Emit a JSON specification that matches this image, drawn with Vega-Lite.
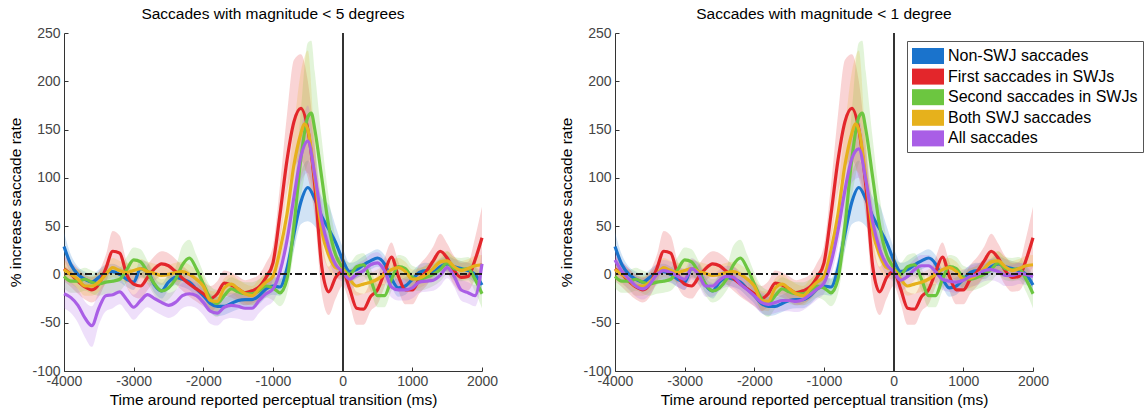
{
"$schema":"https://vega.github.io/schema/vega-lite/v6.json",
"padding":{"left":8,"top":7,"right":0,"bottom":0},
"config":{"font":"Liberation Sans","view":{"stroke":null},
"axis":{"grid":false,"domainColor":"#333","tickColor":"#333","labelColor":"#444","labelFontSize":14,"titleFontSize":15.5,"titleFontWeight":"normal","titleColor":"#000","tickSize":4,"labelPadding":3,"labelOverlap":false,"labelFlush":false},
"title":{"fontSize":15.5,"fontWeight":"normal","color":"#000","offset":3.5}},
"datasets":{"d":[
{"p":"X","s":"Non-SWJ saccades","t":-4000,"v":29,"lo":16,"hi":44},
{"p":"X","s":"Non-SWJ saccades","t":-3900,"v":10,"lo":1,"hi":20},
{"p":"X","s":"Non-SWJ saccades","t":-3800,"v":0,"lo":-8,"hi":8},
{"p":"X","s":"Non-SWJ saccades","t":-3700,"v":-5,"lo":-13,"hi":3},
{"p":"X","s":"Non-SWJ saccades","t":-3600,"v":-8,"lo":-16,"hi":0},
{"p":"X","s":"Non-SWJ saccades","t":-3500,"v":-3,"lo":-11,"hi":5},
{"p":"X","s":"Non-SWJ saccades","t":-3400,"v":2,"lo":-6,"hi":10},
{"p":"X","s":"Non-SWJ saccades","t":-3300,"v":3,"lo":-5,"hi":11},
{"p":"X","s":"Non-SWJ saccades","t":-3200,"v":0,"lo":-8,"hi":8},
{"p":"X","s":"Non-SWJ saccades","t":-3100,"v":-5,"lo":-13,"hi":3},
{"p":"X","s":"Non-SWJ saccades","t":-3000,"v":-8,"lo":-16,"hi":0},
{"p":"X","s":"Non-SWJ saccades","t":-2900,"v":6,"lo":-3,"hi":15},
{"p":"X","s":"Non-SWJ saccades","t":-2800,"v":3,"lo":-6,"hi":12},
{"p":"X","s":"Non-SWJ saccades","t":-2700,"v":-11,"lo":-19,"hi":-3},
{"p":"X","s":"Non-SWJ saccades","t":-2600,"v":-17,"lo":-25,"hi":-9},
{"p":"X","s":"Non-SWJ saccades","t":-2500,"v":-8,"lo":-16,"hi":0},
{"p":"X","s":"Non-SWJ saccades","t":-2400,"v":-3,"lo":-11,"hi":5},
{"p":"X","s":"Non-SWJ saccades","t":-2300,"v":-5,"lo":-13,"hi":3},
{"p":"X","s":"Non-SWJ saccades","t":-2200,"v":-8,"lo":-16,"hi":0},
{"p":"X","s":"Non-SWJ saccades","t":-2100,"v":-15,"lo":-23,"hi":-7},
{"p":"X","s":"Non-SWJ saccades","t":-2000,"v":-22,"lo":-30,"hi":-14},
{"p":"X","s":"Non-SWJ saccades","t":-1900,"v":-30,"lo":-40,"hi":-20},
{"p":"X","s":"Non-SWJ saccades","t":-1800,"v":-33,"lo":-43,"hi":-23},
{"p":"X","s":"Non-SWJ saccades","t":-1700,"v":-33,"lo":-42,"hi":-24},
{"p":"X","s":"Non-SWJ saccades","t":-1600,"v":-30,"lo":-39,"hi":-21},
{"p":"X","s":"Non-SWJ saccades","t":-1500,"v":-27,"lo":-36,"hi":-18},
{"p":"X","s":"Non-SWJ saccades","t":-1400,"v":-26,"lo":-35,"hi":-17},
{"p":"X","s":"Non-SWJ saccades","t":-1300,"v":-26,"lo":-35,"hi":-17},
{"p":"X","s":"Non-SWJ saccades","t":-1200,"v":-22,"lo":-31,"hi":-13},
{"p":"X","s":"Non-SWJ saccades","t":-1100,"v":-15,"lo":-24,"hi":-6},
{"p":"X","s":"Non-SWJ saccades","t":-1000,"v":-12,"lo":-21,"hi":-3},
{"p":"X","s":"Non-SWJ saccades","t":-900,"v":-13,"lo":-22,"hi":-4},
{"p":"X","s":"Non-SWJ saccades","t":-800,"v":6,"lo":-6,"hi":18},
{"p":"X","s":"Non-SWJ saccades","t":-700,"v":42,"lo":25,"hi":62},
{"p":"X","s":"Non-SWJ saccades","t":-600,"v":75,"lo":52,"hi":105},
{"p":"X","s":"Non-SWJ saccades","t":-500,"v":90,"lo":55,"hi":118},
{"p":"X","s":"Non-SWJ saccades","t":-400,"v":78,"lo":50,"hi":100},
{"p":"X","s":"Non-SWJ saccades","t":-300,"v":60,"lo":40,"hi":80},
{"p":"X","s":"Non-SWJ saccades","t":-200,"v":47,"lo":30,"hi":72},
{"p":"X","s":"Non-SWJ saccades","t":-100,"v":33,"lo":18,"hi":50},
{"p":"X","s":"Non-SWJ saccades","t":0,"v":15,"lo":5,"hi":28},
{"p":"X","s":"Non-SWJ saccades","t":100,"v":3,"lo":-6,"hi":12},
{"p":"X","s":"Non-SWJ saccades","t":200,"v":5,"lo":-4,"hi":14},
{"p":"X","s":"Non-SWJ saccades","t":300,"v":10,"lo":1,"hi":19},
{"p":"X","s":"Non-SWJ saccades","t":400,"v":14,"lo":5,"hi":23},
{"p":"X","s":"Non-SWJ saccades","t":500,"v":17,"lo":8,"hi":26},
{"p":"X","s":"Non-SWJ saccades","t":600,"v":11,"lo":2,"hi":20},
{"p":"X","s":"Non-SWJ saccades","t":700,"v":-4,"lo":-13,"hi":5},
{"p":"X","s":"Non-SWJ saccades","t":800,"v":-14,"lo":-23,"hi":-5},
{"p":"X","s":"Non-SWJ saccades","t":900,"v":-12,"lo":-21,"hi":-3},
{"p":"X","s":"Non-SWJ saccades","t":1000,"v":-5,"lo":-13,"hi":3},
{"p":"X","s":"Non-SWJ saccades","t":1100,"v":2,"lo":-6,"hi":10},
{"p":"X","s":"Non-SWJ saccades","t":1200,"v":4,"lo":-4,"hi":12},
{"p":"X","s":"Non-SWJ saccades","t":1300,"v":3,"lo":-5,"hi":11},
{"p":"X","s":"Non-SWJ saccades","t":1400,"v":8,"lo":0,"hi":16},
{"p":"X","s":"Non-SWJ saccades","t":1500,"v":11,"lo":3,"hi":19},
{"p":"X","s":"Non-SWJ saccades","t":1600,"v":8,"lo":0,"hi":16},
{"p":"X","s":"Non-SWJ saccades","t":1700,"v":6,"lo":-2,"hi":14},
{"p":"X","s":"Non-SWJ saccades","t":1800,"v":4,"lo":-4,"hi":12},
{"p":"X","s":"Non-SWJ saccades","t":1900,"v":0,"lo":-9,"hi":9},
{"p":"X","s":"Non-SWJ saccades","t":2000,"v":-11,"lo":-22,"hi":0},
{"p":"X","s":"First saccades in SWJs","t":-4000,"v":6,"lo":-7,"hi":19},
{"p":"X","s":"First saccades in SWJs","t":-3900,"v":0,"lo":-13,"hi":13},
{"p":"X","s":"First saccades in SWJs","t":-3800,"v":-7,"lo":-20,"hi":6},
{"p":"X","s":"First saccades in SWJs","t":-3700,"v":-13,"lo":-26,"hi":0},
{"p":"X","s":"First saccades in SWJs","t":-3600,"v":-16,"lo":-29,"hi":-3},
{"p":"X","s":"First saccades in SWJs","t":-3500,"v":-10,"lo":-23,"hi":3},
{"p":"X","s":"First saccades in SWJs","t":-3400,"v":6,"lo":-8,"hi":20},
{"p":"X","s":"First saccades in SWJs","t":-3300,"v":24,"lo":5,"hi":45},
{"p":"X","s":"First saccades in SWJs","t":-3200,"v":22,"lo":5,"hi":40},
{"p":"X","s":"First saccades in SWJs","t":-3100,"v":0,"lo":-13,"hi":13},
{"p":"X","s":"First saccades in SWJs","t":-3000,"v":-10,"lo":-23,"hi":3},
{"p":"X","s":"First saccades in SWJs","t":-2900,"v":-12,"lo":-25,"hi":1},
{"p":"X","s":"First saccades in SWJs","t":-2800,"v":-3,"lo":-16,"hi":10},
{"p":"X","s":"First saccades in SWJs","t":-2700,"v":6,"lo":-7,"hi":19},
{"p":"X","s":"First saccades in SWJs","t":-2600,"v":11,"lo":-2,"hi":24},
{"p":"X","s":"First saccades in SWJs","t":-2500,"v":9,"lo":-4,"hi":22},
{"p":"X","s":"First saccades in SWJs","t":-2400,"v":3,"lo":-10,"hi":16},
{"p":"X","s":"First saccades in SWJs","t":-2300,"v":-4,"lo":-17,"hi":9},
{"p":"X","s":"First saccades in SWJs","t":-2200,"v":-10,"lo":-23,"hi":3},
{"p":"X","s":"First saccades in SWJs","t":-2100,"v":-15,"lo":-28,"hi":-2},
{"p":"X","s":"First saccades in SWJs","t":-2000,"v":-20,"lo":-33,"hi":-7},
{"p":"X","s":"First saccades in SWJs","t":-1900,"v":-25,"lo":-38,"hi":-12},
{"p":"X","s":"First saccades in SWJs","t":-1800,"v":-20,"lo":-33,"hi":-7},
{"p":"X","s":"First saccades in SWJs","t":-1700,"v":-9,"lo":-22,"hi":4},
{"p":"X","s":"First saccades in SWJs","t":-1600,"v":-11,"lo":-24,"hi":2},
{"p":"X","s":"First saccades in SWJs","t":-1500,"v":-15,"lo":-28,"hi":-2},
{"p":"X","s":"First saccades in SWJs","t":-1400,"v":-19,"lo":-32,"hi":-6},
{"p":"X","s":"First saccades in SWJs","t":-1300,"v":-17,"lo":-30,"hi":-4},
{"p":"X","s":"First saccades in SWJs","t":-1200,"v":-13,"lo":-26,"hi":0},
{"p":"X","s":"First saccades in SWJs","t":-1100,"v":-3,"lo":-18,"hi":12},
{"p":"X","s":"First saccades in SWJs","t":-1000,"v":12,"lo":-5,"hi":30},
{"p":"X","s":"First saccades in SWJs","t":-900,"v":62,"lo":35,"hi":92},
{"p":"X","s":"First saccades in SWJs","t":-800,"v":118,"lo":85,"hi":165},
{"p":"X","s":"First saccades in SWJs","t":-700,"v":158,"lo":110,"hi":222},
{"p":"X","s":"First saccades in SWJs","t":-600,"v":172,"lo":118,"hi":228},
{"p":"X","s":"First saccades in SWJs","t":-500,"v":150,"lo":100,"hi":200},
{"p":"X","s":"First saccades in SWJs","t":-400,"v":92,"lo":60,"hi":135},
{"p":"X","s":"First saccades in SWJs","t":-300,"v":8,"lo":-20,"hi":40},
{"p":"X","s":"First saccades in SWJs","t":-200,"v":-18,"lo":-42,"hi":8},
{"p":"X","s":"First saccades in SWJs","t":-100,"v":-3,"lo":-25,"hi":18},
{"p":"X","s":"First saccades in SWJs","t":0,"v":3,"lo":-12,"hi":18},
{"p":"X","s":"First saccades in SWJs","t":100,"v":-15,"lo":-30,"hi":0},
{"p":"X","s":"First saccades in SWJs","t":200,"v":-35,"lo":-52,"hi":-18},
{"p":"X","s":"First saccades in SWJs","t":300,"v":-36,"lo":-52,"hi":-20},
{"p":"X","s":"First saccades in SWJs","t":400,"v":-23,"lo":-38,"hi":-8},
{"p":"X","s":"First saccades in SWJs","t":500,"v":-16,"lo":-31,"hi":-1},
{"p":"X","s":"First saccades in SWJs","t":600,"v":2,"lo":-13,"hi":17},
{"p":"X","s":"First saccades in SWJs","t":700,"v":18,"lo":3,"hi":33},
{"p":"X","s":"First saccades in SWJs","t":800,"v":-2,"lo":-17,"hi":13},
{"p":"X","s":"First saccades in SWJs","t":900,"v":-16,"lo":-31,"hi":-1},
{"p":"X","s":"First saccades in SWJs","t":1000,"v":-16,"lo":-31,"hi":-1},
{"p":"X","s":"First saccades in SWJs","t":1100,"v":-5,"lo":-20,"hi":10},
{"p":"X","s":"First saccades in SWJs","t":1200,"v":3,"lo":-12,"hi":18},
{"p":"X","s":"First saccades in SWJs","t":1300,"v":14,"lo":-1,"hi":29},
{"p":"X","s":"First saccades in SWJs","t":1400,"v":24,"lo":8,"hi":42},
{"p":"X","s":"First saccades in SWJs","t":1500,"v":17,"lo":2,"hi":32},
{"p":"X","s":"First saccades in SWJs","t":1600,"v":4,"lo":-11,"hi":19},
{"p":"X","s":"First saccades in SWJs","t":1700,"v":-3,"lo":-18,"hi":12},
{"p":"X","s":"First saccades in SWJs","t":1800,"v":-2,"lo":-17,"hi":13},
{"p":"X","s":"First saccades in SWJs","t":1900,"v":15,"lo":-5,"hi":38},
{"p":"X","s":"First saccades in SWJs","t":2000,"v":38,"lo":8,"hi":70},
{"p":"X","s":"Second saccades in SWJs","t":-4000,"v":-2,"lo":-14,"hi":10},
{"p":"X","s":"Second saccades in SWJs","t":-3900,"v":-7,"lo":-19,"hi":5},
{"p":"X","s":"Second saccades in SWJs","t":-3800,"v":-7,"lo":-19,"hi":5},
{"p":"X","s":"Second saccades in SWJs","t":-3700,"v":-5,"lo":-17,"hi":7},
{"p":"X","s":"Second saccades in SWJs","t":-3600,"v":-8,"lo":-20,"hi":4},
{"p":"X","s":"Second saccades in SWJs","t":-3500,"v":-10,"lo":-22,"hi":2},
{"p":"X","s":"Second saccades in SWJs","t":-3400,"v":-8,"lo":-20,"hi":4},
{"p":"X","s":"Second saccades in SWJs","t":-3300,"v":-7,"lo":-19,"hi":5},
{"p":"X","s":"Second saccades in SWJs","t":-3200,"v":-5,"lo":-17,"hi":7},
{"p":"X","s":"Second saccades in SWJs","t":-3100,"v":5,"lo":-8,"hi":18},
{"p":"X","s":"Second saccades in SWJs","t":-3000,"v":15,"lo":2,"hi":28},
{"p":"X","s":"Second saccades in SWJs","t":-2900,"v":13,"lo":0,"hi":26},
{"p":"X","s":"Second saccades in SWJs","t":-2800,"v":2,"lo":-10,"hi":14},
{"p":"X","s":"Second saccades in SWJs","t":-2700,"v":-10,"lo":-22,"hi":2},
{"p":"X","s":"Second saccades in SWJs","t":-2600,"v":-17,"lo":-29,"hi":-5},
{"p":"X","s":"Second saccades in SWJs","t":-2500,"v":-14,"lo":-26,"hi":-2},
{"p":"X","s":"Second saccades in SWJs","t":-2400,"v":-5,"lo":-17,"hi":7},
{"p":"X","s":"Second saccades in SWJs","t":-2300,"v":10,"lo":-5,"hi":30},
{"p":"X","s":"Second saccades in SWJs","t":-2200,"v":17,"lo":0,"hi":36},
{"p":"X","s":"Second saccades in SWJs","t":-2100,"v":6,"lo":-8,"hi":20},
{"p":"X","s":"Second saccades in SWJs","t":-2000,"v":-10,"lo":-22,"hi":2},
{"p":"X","s":"Second saccades in SWJs","t":-1900,"v":-25,"lo":-38,"hi":-12},
{"p":"X","s":"Second saccades in SWJs","t":-1800,"v":-30,"lo":-44,"hi":-16},
{"p":"X","s":"Second saccades in SWJs","t":-1700,"v":-22,"lo":-35,"hi":-9},
{"p":"X","s":"Second saccades in SWJs","t":-1600,"v":-15,"lo":-27,"hi":-3},
{"p":"X","s":"Second saccades in SWJs","t":-1500,"v":-18,"lo":-30,"hi":-6},
{"p":"X","s":"Second saccades in SWJs","t":-1400,"v":-20,"lo":-32,"hi":-8},
{"p":"X","s":"Second saccades in SWJs","t":-1300,"v":-20,"lo":-32,"hi":-8},
{"p":"X","s":"Second saccades in SWJs","t":-1200,"v":-17,"lo":-29,"hi":-5},
{"p":"X","s":"Second saccades in SWJs","t":-1100,"v":-12,"lo":-24,"hi":0},
{"p":"X","s":"Second saccades in SWJs","t":-1000,"v":-14,"lo":-27,"hi":-1},
{"p":"X","s":"Second saccades in SWJs","t":-900,"v":-19,"lo":-33,"hi":-5},
{"p":"X","s":"Second saccades in SWJs","t":-800,"v":-5,"lo":-20,"hi":12},
{"p":"X","s":"Second saccades in SWJs","t":-700,"v":50,"lo":25,"hi":80},
{"p":"X","s":"Second saccades in SWJs","t":-600,"v":120,"lo":80,"hi":170},
{"p":"X","s":"Second saccades in SWJs","t":-500,"v":163,"lo":115,"hi":240},
{"p":"X","s":"Second saccades in SWJs","t":-450,"v":167,"lo":120,"hi":242},
{"p":"X","s":"Second saccades in SWJs","t":-400,"v":150,"lo":105,"hi":210},
{"p":"X","s":"Second saccades in SWJs","t":-300,"v":100,"lo":65,"hi":140},
{"p":"X","s":"Second saccades in SWJs","t":-200,"v":50,"lo":25,"hi":80},
{"p":"X","s":"Second saccades in SWJs","t":-100,"v":20,"lo":5,"hi":38},
{"p":"X","s":"Second saccades in SWJs","t":0,"v":7,"lo":-5,"hi":19},
{"p":"X","s":"Second saccades in SWJs","t":100,"v":0,"lo":-12,"hi":12},
{"p":"X","s":"Second saccades in SWJs","t":200,"v":8,"lo":-4,"hi":20},
{"p":"X","s":"Second saccades in SWJs","t":300,"v":10,"lo":-2,"hi":22},
{"p":"X","s":"Second saccades in SWJs","t":400,"v":-5,"lo":-17,"hi":7},
{"p":"X","s":"Second saccades in SWJs","t":500,"v":-22,"lo":-34,"hi":-10},
{"p":"X","s":"Second saccades in SWJs","t":600,"v":-22,"lo":-34,"hi":-10},
{"p":"X","s":"Second saccades in SWJs","t":700,"v":-5,"lo":-17,"hi":7},
{"p":"X","s":"Second saccades in SWJs","t":800,"v":8,"lo":-4,"hi":20},
{"p":"X","s":"Second saccades in SWJs","t":900,"v":6,"lo":-6,"hi":18},
{"p":"X","s":"Second saccades in SWJs","t":1000,"v":-3,"lo":-15,"hi":9},
{"p":"X","s":"Second saccades in SWJs","t":1100,"v":-5,"lo":-17,"hi":7},
{"p":"X","s":"Second saccades in SWJs","t":1200,"v":-3,"lo":-15,"hi":9},
{"p":"X","s":"Second saccades in SWJs","t":1300,"v":0,"lo":-12,"hi":12},
{"p":"X","s":"Second saccades in SWJs","t":1400,"v":5,"lo":-7,"hi":17},
{"p":"X","s":"Second saccades in SWJs","t":1500,"v":12,"lo":0,"hi":24},
{"p":"X","s":"Second saccades in SWJs","t":1600,"v":6,"lo":-6,"hi":18},
{"p":"X","s":"Second saccades in SWJs","t":1700,"v":5,"lo":-7,"hi":17},
{"p":"X","s":"Second saccades in SWJs","t":1800,"v":6,"lo":-6,"hi":18},
{"p":"X","s":"Second saccades in SWJs","t":1900,"v":-5,"lo":-18,"hi":8},
{"p":"X","s":"Second saccades in SWJs","t":2000,"v":-20,"lo":-35,"hi":-5},
{"p":"X","s":"Both SWJ saccades","t":-4000,"v":5,"lo":-5,"hi":15},
{"p":"X","s":"Both SWJ saccades","t":-3900,"v":0,"lo":-10,"hi":10},
{"p":"X","s":"Both SWJ saccades","t":-3800,"v":-5,"lo":-15,"hi":5},
{"p":"X","s":"Both SWJ saccades","t":-3700,"v":-12,"lo":-22,"hi":-2},
{"p":"X","s":"Both SWJ saccades","t":-3600,"v":-12,"lo":-22,"hi":-2},
{"p":"X","s":"Both SWJ saccades","t":-3500,"v":-8,"lo":-18,"hi":2},
{"p":"X","s":"Both SWJ saccades","t":-3400,"v":0,"lo":-10,"hi":10},
{"p":"X","s":"Both SWJ saccades","t":-3300,"v":7,"lo":-3,"hi":17},
{"p":"X","s":"Both SWJ saccades","t":-3200,"v":4,"lo":-6,"hi":14},
{"p":"X","s":"Both SWJ saccades","t":-3100,"v":2,"lo":-8,"hi":12},
{"p":"X","s":"Both SWJ saccades","t":-3000,"v":4,"lo":-6,"hi":14},
{"p":"X","s":"Both SWJ saccades","t":-2900,"v":6,"lo":-4,"hi":16},
{"p":"X","s":"Both SWJ saccades","t":-2800,"v":3,"lo":-7,"hi":13},
{"p":"X","s":"Both SWJ saccades","t":-2700,"v":1,"lo":-9,"hi":11},
{"p":"X","s":"Both SWJ saccades","t":-2600,"v":-1,"lo":-11,"hi":9},
{"p":"X","s":"Both SWJ saccades","t":-2500,"v":0,"lo":-10,"hi":10},
{"p":"X","s":"Both SWJ saccades","t":-2400,"v":2,"lo":-8,"hi":12},
{"p":"X","s":"Both SWJ saccades","t":-2300,"v":3,"lo":-7,"hi":13},
{"p":"X","s":"Both SWJ saccades","t":-2200,"v":0,"lo":-10,"hi":10},
{"p":"X","s":"Both SWJ saccades","t":-2100,"v":-5,"lo":-15,"hi":5},
{"p":"X","s":"Both SWJ saccades","t":-2000,"v":-12,"lo":-22,"hi":-2},
{"p":"X","s":"Both SWJ saccades","t":-1900,"v":-27,"lo":-37,"hi":-17},
{"p":"X","s":"Both SWJ saccades","t":-1800,"v":-28,"lo":-38,"hi":-18},
{"p":"X","s":"Both SWJ saccades","t":-1700,"v":-14,"lo":-24,"hi":-4},
{"p":"X","s":"Both SWJ saccades","t":-1600,"v":-10,"lo":-20,"hi":0},
{"p":"X","s":"Both SWJ saccades","t":-1500,"v":-15,"lo":-25,"hi":-5},
{"p":"X","s":"Both SWJ saccades","t":-1400,"v":-20,"lo":-30,"hi":-10},
{"p":"X","s":"Both SWJ saccades","t":-1300,"v":-22,"lo":-32,"hi":-12},
{"p":"X","s":"Both SWJ saccades","t":-1200,"v":-15,"lo":-25,"hi":-5},
{"p":"X","s":"Both SWJ saccades","t":-1100,"v":-8,"lo":-18,"hi":2},
{"p":"X","s":"Both SWJ saccades","t":-1000,"v":-2,"lo":-12,"hi":8},
{"p":"X","s":"Both SWJ saccades","t":-900,"v":25,"lo":10,"hi":42},
{"p":"X","s":"Both SWJ saccades","t":-800,"v":62,"lo":40,"hi":88},
{"p":"X","s":"Both SWJ saccades","t":-700,"v":113,"lo":80,"hi":152},
{"p":"X","s":"Both SWJ saccades","t":-600,"v":146,"lo":100,"hi":210},
{"p":"X","s":"Both SWJ saccades","t":-550,"v":156,"lo":108,"hi":225},
{"p":"X","s":"Both SWJ saccades","t":-500,"v":150,"lo":105,"hi":232},
{"p":"X","s":"Both SWJ saccades","t":-400,"v":100,"lo":70,"hi":140},
{"p":"X","s":"Both SWJ saccades","t":-300,"v":45,"lo":25,"hi":68},
{"p":"X","s":"Both SWJ saccades","t":-200,"v":20,"lo":5,"hi":35},
{"p":"X","s":"Both SWJ saccades","t":-100,"v":7,"lo":-4,"hi":18},
{"p":"X","s":"Both SWJ saccades","t":0,"v":5,"lo":-5,"hi":15},
{"p":"X","s":"Both SWJ saccades","t":100,"v":-5,"lo":-15,"hi":5},
{"p":"X","s":"Both SWJ saccades","t":200,"v":-12,"lo":-22,"hi":-2},
{"p":"X","s":"Both SWJ saccades","t":300,"v":-10,"lo":-20,"hi":0},
{"p":"X","s":"Both SWJ saccades","t":400,"v":-8,"lo":-18,"hi":2},
{"p":"X","s":"Both SWJ saccades","t":500,"v":-5,"lo":-15,"hi":5},
{"p":"X","s":"Both SWJ saccades","t":600,"v":0,"lo":-10,"hi":10},
{"p":"X","s":"Both SWJ saccades","t":700,"v":5,"lo":-5,"hi":15},
{"p":"X","s":"Both SWJ saccades","t":800,"v":7,"lo":-3,"hi":17},
{"p":"X","s":"Both SWJ saccades","t":900,"v":3,"lo":-7,"hi":13},
{"p":"X","s":"Both SWJ saccades","t":1000,"v":-5,"lo":-15,"hi":5},
{"p":"X","s":"Both SWJ saccades","t":1100,"v":-4,"lo":-14,"hi":6},
{"p":"X","s":"Both SWJ saccades","t":1200,"v":0,"lo":-10,"hi":10},
{"p":"X","s":"Both SWJ saccades","t":1300,"v":6,"lo":-4,"hi":16},
{"p":"X","s":"Both SWJ saccades","t":1400,"v":13,"lo":3,"hi":23},
{"p":"X","s":"Both SWJ saccades","t":1500,"v":14,"lo":4,"hi":24},
{"p":"X","s":"Both SWJ saccades","t":1600,"v":8,"lo":-2,"hi":18},
{"p":"X","s":"Both SWJ saccades","t":1700,"v":4,"lo":-6,"hi":14},
{"p":"X","s":"Both SWJ saccades","t":1800,"v":6,"lo":-4,"hi":16},
{"p":"X","s":"Both SWJ saccades","t":1900,"v":9,"lo":-1,"hi":19},
{"p":"X","s":"Both SWJ saccades","t":2000,"v":10,"lo":0,"hi":20},
{"p":"L","s":"All saccades","t":-4000,"v":-20,"lo":-35,"hi":-5},
{"p":"L","s":"All saccades","t":-3900,"v":-24,"lo":-40,"hi":-8},
{"p":"L","s":"All saccades","t":-3800,"v":-32,"lo":-50,"hi":-15},
{"p":"L","s":"All saccades","t":-3700,"v":-45,"lo":-65,"hi":-28},
{"p":"L","s":"All saccades","t":-3600,"v":-53,"lo":-75,"hi":-33},
{"p":"L","s":"All saccades","t":-3500,"v":-35,"lo":-52,"hi":-18},
{"p":"L","s":"All saccades","t":-3400,"v":-22,"lo":-38,"hi":-7},
{"p":"L","s":"All saccades","t":-3300,"v":-21,"lo":-35,"hi":-7},
{"p":"L","s":"All saccades","t":-3200,"v":-18,"lo":-31,"hi":-5},
{"p":"L","s":"All saccades","t":-3100,"v":-26,"lo":-39,"hi":-13},
{"p":"L","s":"All saccades","t":-3000,"v":-34,"lo":-47,"hi":-21},
{"p":"L","s":"All saccades","t":-2900,"v":-27,"lo":-40,"hi":-14},
{"p":"L","s":"All saccades","t":-2800,"v":-21,"lo":-34,"hi":-8},
{"p":"L","s":"All saccades","t":-2700,"v":-25,"lo":-38,"hi":-12},
{"p":"L","s":"All saccades","t":-2600,"v":-29,"lo":-42,"hi":-16},
{"p":"L","s":"All saccades","t":-2500,"v":-32,"lo":-45,"hi":-19},
{"p":"L","s":"All saccades","t":-2400,"v":-29,"lo":-42,"hi":-16},
{"p":"L","s":"All saccades","t":-2300,"v":-22,"lo":-35,"hi":-9},
{"p":"L","s":"All saccades","t":-2200,"v":-20,"lo":-33,"hi":-7},
{"p":"L","s":"All saccades","t":-2100,"v":-22,"lo":-35,"hi":-9},
{"p":"L","s":"All saccades","t":-2000,"v":-29,"lo":-42,"hi":-16},
{"p":"L","s":"All saccades","t":-1900,"v":-38,"lo":-51,"hi":-25},
{"p":"L","s":"All saccades","t":-1800,"v":-40,"lo":-53,"hi":-27},
{"p":"L","s":"All saccades","t":-1700,"v":-34,"lo":-47,"hi":-21},
{"p":"L","s":"All saccades","t":-1600,"v":-32,"lo":-45,"hi":-19},
{"p":"L","s":"All saccades","t":-1500,"v":-33,"lo":-46,"hi":-20},
{"p":"L","s":"All saccades","t":-1400,"v":-35,"lo":-48,"hi":-22},
{"p":"L","s":"All saccades","t":-1300,"v":-35,"lo":-48,"hi":-22},
{"p":"L","s":"All saccades","t":-1200,"v":-27,"lo":-40,"hi":-14},
{"p":"L","s":"All saccades","t":-1100,"v":-20,"lo":-33,"hi":-7},
{"p":"L","s":"All saccades","t":-1000,"v":-15,"lo":-28,"hi":-2},
{"p":"L","s":"All saccades","t":-900,"v":3,"lo":-12,"hi":18},
{"p":"L","s":"All saccades","t":-800,"v":35,"lo":18,"hi":52},
{"p":"L","s":"All saccades","t":-700,"v":80,"lo":58,"hi":105},
{"p":"L","s":"All saccades","t":-600,"v":122,"lo":95,"hi":150},
{"p":"L","s":"All saccades","t":-500,"v":138,"lo":105,"hi":175},
{"p":"L","s":"All saccades","t":-400,"v":103,"lo":78,"hi":130},
{"p":"L","s":"All saccades","t":-300,"v":56,"lo":38,"hi":75},
{"p":"L","s":"All saccades","t":-200,"v":28,"lo":14,"hi":42},
{"p":"L","s":"All saccades","t":-100,"v":10,"lo":-2,"hi":22},
{"p":"L","s":"All saccades","t":0,"v":3,"lo":-8,"hi":14},
{"p":"L","s":"All saccades","t":100,"v":-5,"lo":-16,"hi":6},
{"p":"L","s":"All saccades","t":200,"v":0,"lo":-11,"hi":11},
{"p":"L","s":"All saccades","t":300,"v":4,"lo":-7,"hi":15},
{"p":"L","s":"All saccades","t":400,"v":10,"lo":-1,"hi":21},
{"p":"L","s":"All saccades","t":500,"v":12,"lo":1,"hi":23},
{"p":"L","s":"All saccades","t":600,"v":4,"lo":-7,"hi":15},
{"p":"L","s":"All saccades","t":700,"v":-13,"lo":-24,"hi":-2},
{"p":"L","s":"All saccades","t":800,"v":-16,"lo":-27,"hi":-5},
{"p":"L","s":"All saccades","t":900,"v":-16,"lo":-27,"hi":-5},
{"p":"L","s":"All saccades","t":1000,"v":-14,"lo":-25,"hi":-3},
{"p":"L","s":"All saccades","t":1100,"v":-8,"lo":-19,"hi":3},
{"p":"L","s":"All saccades","t":1200,"v":-7,"lo":-18,"hi":4},
{"p":"L","s":"All saccades","t":1300,"v":-6,"lo":-17,"hi":5},
{"p":"L","s":"All saccades","t":1400,"v":-1,"lo":-12,"hi":10},
{"p":"L","s":"All saccades","t":1500,"v":7,"lo":-4,"hi":18},
{"p":"L","s":"All saccades","t":1600,"v":-2,"lo":-13,"hi":9},
{"p":"L","s":"All saccades","t":1700,"v":-16,"lo":-27,"hi":-5},
{"p":"L","s":"All saccades","t":1800,"v":-19,"lo":-30,"hi":-8},
{"p":"L","s":"All saccades","t":1900,"v":-22,"lo":-33,"hi":-11},
{"p":"L","s":"All saccades","t":2000,"v":11,"lo":-5,"hi":25},
{"p":"R","s":"All saccades","t":-4000,"v":15,"lo":3,"hi":27},
{"p":"R","s":"All saccades","t":-3900,"v":3,"lo":-8,"hi":14},
{"p":"R","s":"All saccades","t":-3800,"v":-5,"lo":-16,"hi":6},
{"p":"R","s":"All saccades","t":-3700,"v":-12,"lo":-23,"hi":-1},
{"p":"R","s":"All saccades","t":-3600,"v":-15,"lo":-26,"hi":-4},
{"p":"R","s":"All saccades","t":-3500,"v":-10,"lo":-21,"hi":1},
{"p":"R","s":"All saccades","t":-3400,"v":0,"lo":-11,"hi":11},
{"p":"R","s":"All saccades","t":-3300,"v":4,"lo":-7,"hi":15},
{"p":"R","s":"All saccades","t":-3200,"v":2,"lo":-9,"hi":13},
{"p":"R","s":"All saccades","t":-3100,"v":-2,"lo":-13,"hi":9},
{"p":"R","s":"All saccades","t":-3000,"v":-5,"lo":-16,"hi":6},
{"p":"R","s":"All saccades","t":-2900,"v":6,"lo":-5,"hi":17},
{"p":"R","s":"All saccades","t":-2800,"v":0,"lo":-11,"hi":11},
{"p":"R","s":"All saccades","t":-2700,"v":-12,"lo":-23,"hi":-1},
{"p":"R","s":"All saccades","t":-2600,"v":-12,"lo":-23,"hi":-1},
{"p":"R","s":"All saccades","t":-2500,"v":-6,"lo":-17,"hi":5},
{"p":"R","s":"All saccades","t":-2400,"v":-2,"lo":-13,"hi":9},
{"p":"R","s":"All saccades","t":-2300,"v":-3,"lo":-14,"hi":8},
{"p":"R","s":"All saccades","t":-2200,"v":-10,"lo":-21,"hi":1},
{"p":"R","s":"All saccades","t":-2100,"v":-16,"lo":-27,"hi":-5},
{"p":"R","s":"All saccades","t":-2000,"v":-22,"lo":-33,"hi":-11},
{"p":"R","s":"All saccades","t":-1900,"v":-29,"lo":-40,"hi":-18},
{"p":"R","s":"All saccades","t":-1800,"v":-31,"lo":-42,"hi":-20},
{"p":"R","s":"All saccades","t":-1700,"v":-29,"lo":-40,"hi":-18},
{"p":"R","s":"All saccades","t":-1600,"v":-27,"lo":-38,"hi":-16},
{"p":"R","s":"All saccades","t":-1500,"v":-27,"lo":-38,"hi":-16},
{"p":"R","s":"All saccades","t":-1400,"v":-28,"lo":-39,"hi":-17},
{"p":"R","s":"All saccades","t":-1300,"v":-26,"lo":-37,"hi":-15},
{"p":"R","s":"All saccades","t":-1200,"v":-21,"lo":-32,"hi":-10},
{"p":"R","s":"All saccades","t":-1100,"v":-15,"lo":-26,"hi":-4},
{"p":"R","s":"All saccades","t":-1000,"v":-9,"lo":-20,"hi":2},
{"p":"R","s":"All saccades","t":-900,"v":12,"lo":-2,"hi":26},
{"p":"R","s":"All saccades","t":-800,"v":45,"lo":28,"hi":62},
{"p":"R","s":"All saccades","t":-700,"v":87,"lo":65,"hi":112},
{"p":"R","s":"All saccades","t":-600,"v":120,"lo":95,"hi":148},
{"p":"R","s":"All saccades","t":-500,"v":130,"lo":100,"hi":160},
{"p":"R","s":"All saccades","t":-400,"v":98,"lo":75,"hi":125},
{"p":"R","s":"All saccades","t":-300,"v":54,"lo":38,"hi":72},
{"p":"R","s":"All saccades","t":-200,"v":26,"lo":13,"hi":40},
{"p":"R","s":"All saccades","t":-100,"v":10,"lo":-1,"hi":21},
{"p":"R","s":"All saccades","t":0,"v":3,"lo":-8,"hi":14},
{"p":"R","s":"All saccades","t":100,"v":-6,"lo":-17,"hi":5},
{"p":"R","s":"All saccades","t":200,"v":-2,"lo":-13,"hi":9},
{"p":"R","s":"All saccades","t":300,"v":5,"lo":-6,"hi":16},
{"p":"R","s":"All saccades","t":400,"v":9,"lo":-2,"hi":20},
{"p":"R","s":"All saccades","t":500,"v":9,"lo":-2,"hi":20},
{"p":"R","s":"All saccades","t":600,"v":3,"lo":-8,"hi":14},
{"p":"R","s":"All saccades","t":700,"v":-5,"lo":-16,"hi":6},
{"p":"R","s":"All saccades","t":800,"v":-7,"lo":-18,"hi":4},
{"p":"R","s":"All saccades","t":900,"v":-8,"lo":-19,"hi":3},
{"p":"R","s":"All saccades","t":1000,"v":-6,"lo":-17,"hi":5},
{"p":"R","s":"All saccades","t":1100,"v":-2,"lo":-13,"hi":9},
{"p":"R","s":"All saccades","t":1200,"v":0,"lo":-11,"hi":11},
{"p":"R","s":"All saccades","t":1300,"v":4,"lo":-7,"hi":15},
{"p":"R","s":"All saccades","t":1400,"v":5,"lo":-6,"hi":16},
{"p":"R","s":"All saccades","t":1500,"v":3,"lo":-8,"hi":14},
{"p":"R","s":"All saccades","t":1600,"v":-1,"lo":-12,"hi":10},
{"p":"R","s":"All saccades","t":1700,"v":-1,"lo":-12,"hi":10},
{"p":"R","s":"All saccades","t":1800,"v":1,"lo":-10,"hi":12},
{"p":"R","s":"All saccades","t":1900,"v":0,"lo":-11,"hi":11},
{"p":"R","s":"All saccades","t":2000,"v":-2,"lo":-13,"hi":9}
]},
"spacing":133,
"bounds":"flush",
"resolve":{"scale":{"color":"independent"},"legend":{"color":"independent"}},
"hconcat":[
{"width":418,"height":338,
"title":{"text":"Saccades with magnitude < 5 degrees"},
"data":{"name":"d"},
"transform":[{"filter":"datum.p == 'L' || datum.p == 'X'"}],
"resolve":{"axis":{"x":"independent","y":"independent"}},
"layer":[
{"mark":{"type":"area","opacity":0.2,"interpolate":"monotone"},
"encoding":{
"x":{"field":"t","type":"quantitative","scale":{"domain":[-4000,2000],"nice":false,"zero":false},"axis":{"title":"Time around reported perceptual transition (ms)","values":[-4000,-3000,-2000,-1000,0,1000,2000],"ticks":false,"labelPadding":3,"labelExpr":"'' + datum.value"}},
"y":{"field":"lo","type":"quantitative","scale":{"domain":[-100,250],"nice":false,"zero":false},"axis":{"title":"% increase saccade rate","values":[-100,-50,0,50,100,150,200,250],"ticks":false,"labelPadding":4,"titlePadding":8,"labelExpr":"'' + datum.value"}},
"y2":{"field":"hi"},
"color":{"field":"s","type":"nominal","scale":{"domain":["Non-SWJ saccades","First saccades in SWJs","Second saccades in SWJs","Both SWJ saccades","All saccades"],"range":["#1a73cc","#e3262b","#6cc640","#e6b11c","#a95ee6"]},"legend":null}}},
{"mark":{"type":"line","strokeWidth":3.2,"interpolate":"monotone"},
"encoding":{
"x":{"field":"t","type":"quantitative","axis":null},
"y":{"field":"v","type":"quantitative","axis":null},
"color":{"field":"s","type":"nominal","legend":null}}},
{"mark":{"type":"rule","color":"#333","strokeWidth":1},"encoding":{"x":{"datum":0,"type":"quantitative","axis":{"orient":"top","offset":-338,"labels":false,"domain":false,"title":null,"tickSize":4,"values":[-4000,-3000,-2000,-1000,0,1000,2000]}}}},
{"mark":{"type":"rule","color":"#222","strokeWidth":1,"strokeDash":[7,3,2,3]},"encoding":{"y":{"datum":0,"type":"quantitative","axis":{"orient":"right","offset":-418,"labels":false,"domain":false,"title":null,"tickSize":4,"values":[-100,-50,0,50,100,150,200,250]}}}}
]},
{"width":418,"height":338,
"title":{"text":"Saccades with magnitude < 1 degree"},
"data":{"name":"d"},
"transform":[{"filter":"datum.p == 'R' || datum.p == 'X'"}],
"resolve":{"axis":{"x":"independent","y":"independent"}},
"layer":[
{"mark":{"type":"area","opacity":0.2,"interpolate":"monotone"},
"encoding":{
"x":{"field":"t","type":"quantitative","scale":{"domain":[-4000,2000],"nice":false,"zero":false},"axis":{"title":"Time around reported perceptual transition (ms)","values":[-4000,-3000,-2000,-1000,0,1000,2000],"ticks":false,"labelPadding":3,"labelExpr":"'' + datum.value"}},
"y":{"field":"lo","type":"quantitative","scale":{"domain":[-100,250],"nice":false,"zero":false},"axis":{"title":"% increase saccade rate","values":[-100,-50,0,50,100,150,200,250],"ticks":false,"labelPadding":4,"titlePadding":8,"labelExpr":"'' + datum.value"}},
"y2":{"field":"hi"},
"color":{"field":"s","type":"nominal","scale":{"domain":["Non-SWJ saccades","First saccades in SWJs","Second saccades in SWJs","Both SWJ saccades","All saccades"],"range":["#1a73cc","#e3262b","#6cc640","#e6b11c","#a95ee6"]},
"legend":{"orient":"none","legendX":292,"legendY":8,"title":null,"symbolType":"M-1.6,-0.8H1.6V0.8H-1.6Z","symbolSize":400,"symbolOffset":6,"symbolOpacity":1,"symbolStrokeWidth":0,"labelFontSize":16,"labelColor":"#000","labelLimit":400,"labelOffset":10,"strokeColor":"#555","fillColor":"#fff","padding":5,"rowPadding":2.6,
"encode":{"symbols":{"update":{"opacity":{"value":1},"fillOpacity":{"value":1}}}}}}}},
{"mark":{"type":"line","strokeWidth":3.2,"interpolate":"monotone"},
"encoding":{
"x":{"field":"t","type":"quantitative","axis":null},
"y":{"field":"v","type":"quantitative","axis":null},
"color":{"field":"s","type":"nominal","legend":null}}},
{"mark":{"type":"rule","color":"#333","strokeWidth":1},"encoding":{"x":{"datum":0,"type":"quantitative","axis":{"orient":"top","offset":-338,"labels":false,"domain":false,"title":null,"tickSize":4,"values":[-4000,-3000,-2000,-1000,0,1000,2000]}}}},
{"mark":{"type":"rule","color":"#222","strokeWidth":1,"strokeDash":[7,3,2,3]},"encoding":{"y":{"datum":0,"type":"quantitative","axis":{"orient":"right","offset":-418,"labels":false,"domain":false,"title":null,"tickSize":4,"values":[-100,-50,0,50,100,150,200,250]}}}}
]}
]}
